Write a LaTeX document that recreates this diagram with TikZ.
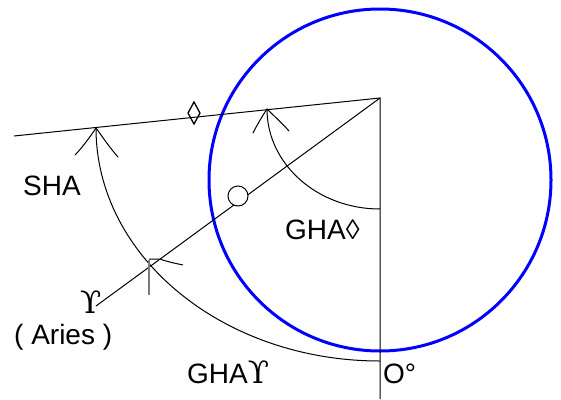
\documentclass[tikz,border=0pt]{standalone}
\usepackage{fontspec}
\setmainfont{Liberation Sans}
\newfontfamily\ariesfont{DejaVu Serif}
\usepackage{xcolor}
\usepackage{tikz}
\usetikzlibrary{calc}
\definecolor{skyBlue}{HTML}{0000FF}
\definecolor{skyInk}{HTML}{000000}
\definecolor{skyGrey}{HTML}{7A7A7A}
\newcommand{\ariessign}{{\ariesfont\fontsize{31}{32}\selectfont ϒ}}

\begin{document}
\begin{tikzpicture}[
  x=1pt, y=-1pt,
  font=\fontsize{28}{32}\selectfont,
  thin/.style={draw=skyInk, line width=1pt},
  sphere/.style={draw=skyBlue, line width=3pt},
  barb/.style={thin, line cap=round},
  lbl/.style={anchor=base west, inner sep=0pt, text=skyInk}
]
\useasboundingbox (0,0) rectangle (561,399);

% ---- reference points -----------------------------------------------------
\coordinate (pole)     at (380,98);
\coordinate (starend)  at (14,136);
\coordinate (ariesend) at (96,306);
\coordinate (foot)     at (380,399);
\coordinate (star)     at (194,113);
\coordinate (shatip)   at (96,128);
\coordinate (ghatip)   at (267,109);
\coordinate (flag)     at (149,259);

% ---- celestial circle -----------------------------------------------------
\draw[sphere] (380,180) circle[radius=171pt];

% ---- hour circles ---------------------------------------------------------
\draw[thin] (starend) -- (pole) -- (foot);
\draw[thin] (pole) -- (ariesend);

% ---- angle arcs -----------------------------------------------------------
\draw[thin] (shatip) arc[start angle=180, end angle=270, x radius=284pt, y radius=233pt];
\draw[thin] (ghatip) arc[start angle=180, end angle=270, x radius=113pt, y radius=100pt];

% hand drawn arrow heads
\draw[barb] (shatip) .. controls (88,140) and (80,150) .. (75,155);
\draw[barb] (shatip) .. controls (104,139) and (110,148) .. (118,157);
\draw[barb] (ghatip) .. controls (261,118) and (256,127) .. (253,133);
\draw[barb] (ghatip) .. controls (273,115) and (282,123) .. (289,131);

% ---- star, sun and Aries mark ---------------------------------------------
\draw[thin, line width=1.3pt] (star) ++(0,-11) -- ++(6,11) -- ++(-6,11) -- ++(-6,-11) -- cycle;
\node[draw=skyInk, line width=1pt, circle, fill=white, minimum size=20pt, inner sep=0pt] (sun) at (238,196) {};
\draw[draw=skyGrey, line width=1.2pt] (flag) ++(0,1) -- ++(0,35);
\draw[thin] (flag) -- ++(11,0) .. controls (168,262) and (174,263) .. (183,265);

% ---- labels ---------------------------------------------------------------
\node[lbl] (sha)      at (23,195)  {SHA};
\node[lbl] (ghastar)  at (285,239) {GHA◊};
\node[lbl] (aries)    at (80,313)  {\ariessign};
\node[lbl] (arieslbl) at (14,344)  {( Aries )};
\node[lbl] (ghaaries) at (187,383) {GHA\ariessign};
\node[lbl] (zero)     at (383,383) {O°};

\end{tikzpicture}
\end{document}
